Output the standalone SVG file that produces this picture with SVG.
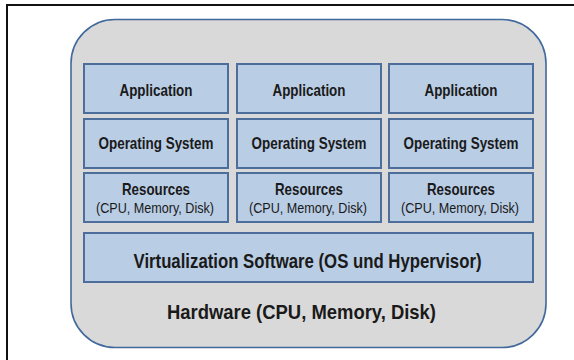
<svg xmlns="http://www.w3.org/2000/svg" width="574" height="360" viewBox="0 0 574 360">
<style>
.box{fill:#b9cde5;stroke:#4d6e9b;stroke-width:2}
.t{font-family:"Liberation Sans",Arial,sans-serif;font-weight:bold;fill:#1a1a1a;text-anchor:middle}
.s{font-family:"Liberation Sans",Arial,sans-serif;font-weight:normal;fill:#1a1a1a;text-anchor:middle}
</style>
<rect width="574" height="360" fill="#ffffff"/>
<g id="frame"><path d="M7 362 V5 H576" fill="none" stroke="#111111" stroke-width="2"/></g>
<g id="hardware">
<rect x="71" y="19.5" width="475" height="328" rx="44" ry="44" fill="#d9d9d9" stroke="#41699c" stroke-width="1.6"/>
<text class="t" x="301.5" y="318.5" font-size="21" textLength="269" lengthAdjust="spacingAndGlyphs">Hardware (CPU, Memory, Disk)</text>
</g>
<g id="app1"><rect class="box" x="84" y="64" width="144" height="49"/><text class="t" x="156" y="95.7" font-size="17" textLength="73" lengthAdjust="spacingAndGlyphs">Application</text></g>
<g id="app2"><rect class="box" x="237" y="64" width="144" height="49"/><text class="t" x="309" y="95.7" font-size="17" textLength="73" lengthAdjust="spacingAndGlyphs">Application</text></g>
<g id="app3"><rect class="box" x="389" y="64" width="144" height="49"/><text class="t" x="461" y="95.7" font-size="17" textLength="73" lengthAdjust="spacingAndGlyphs">Application</text></g>
<g id="os1"><rect class="box" x="84" y="119" width="144" height="49"/><text class="t" x="156" y="148.7" font-size="17" textLength="115" lengthAdjust="spacingAndGlyphs">Operating System</text></g>
<g id="os2"><rect class="box" x="237" y="119" width="144" height="49"/><text class="t" x="309" y="148.7" font-size="17" textLength="115" lengthAdjust="spacingAndGlyphs">Operating System</text></g>
<g id="os3"><rect class="box" x="389" y="119" width="144" height="49"/><text class="t" x="461" y="148.7" font-size="17" textLength="115" lengthAdjust="spacingAndGlyphs">Operating System</text></g>
<g id="res1"><rect class="box" x="84" y="173" width="144" height="49"/><text class="t" x="156" y="195" font-size="16.5" textLength="68" lengthAdjust="spacingAndGlyphs">Resources</text><text class="s" x="155" y="213" font-size="15.5" textLength="118" lengthAdjust="spacingAndGlyphs">(CPU, Memory, Disk)</text></g>
<g id="res2"><rect class="box" x="237" y="173" width="144" height="49"/><text class="t" x="309" y="195" font-size="16.5" textLength="68" lengthAdjust="spacingAndGlyphs">Resources</text><text class="s" x="308" y="213" font-size="15.5" textLength="118" lengthAdjust="spacingAndGlyphs">(CPU, Memory, Disk)</text></g>
<g id="res3"><rect class="box" x="389" y="173" width="144" height="49"/><text class="t" x="461" y="195" font-size="16.5" textLength="68" lengthAdjust="spacingAndGlyphs">Resources</text><text class="s" x="460" y="213" font-size="15.5" textLength="118" lengthAdjust="spacingAndGlyphs">(CPU, Memory, Disk)</text></g>
<g id="virt"><rect class="box" x="84" y="233" width="449" height="49"/><text class="t" x="307.5" y="267.7" font-size="21" textLength="348" lengthAdjust="spacingAndGlyphs">Virtualization Software (OS und Hypervisor)</text></g>
<g id="connectors"></g>
</svg>
